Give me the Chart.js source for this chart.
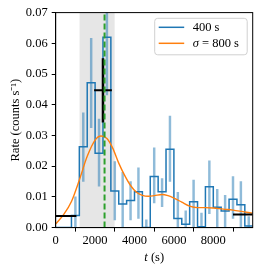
<!DOCTYPE html>
<html lang="en">
<head>
  <meta charset="UTF-8">
  <title>Rate light curve</title>
  <script src="https://cdn.jsdelivr.net/npm/chart.js"></script>
  <style>
    html, body { margin: 0; padding: 0; background: #fff; }
    #wrap { width: 266px; height: 273px; }
  </style>
</head>
<body>
  <div id="wrap"><canvas id="rateChart"></canvas></div>

  <script>
    // 400 s bins
    const binEdges = [0, 400, 800, 1200, 1600, 2000, 2400, 2800, 3200, 3600, 4000, 4400, 4800,
      5200, 5600, 6000, 6400, 6800, 7200, 7600, 8000, 8400, 8800, 9200, 9600, 10000];
    const rate400 = [0, 0, 0.0039, 0.0263, 0.0472, 0.0242, 0.0620, 0.0119, 0.0077, 0.0088, 0.0117, 0,
      0.0166, 0.0117, 0.0255, 0.0030, 0.0011, 0.0084, 0.0003, 0.0133, 0.0066, 0.0054, 0.0092, 0.0074, 0.0005];
    const errLow = [null, null, 0, 0.0150, 0.0325, 0.0135, 0.0432, 0.0025, 0, 0.0025, 0.0030, 0,
      0.0080, 0.0068, 0.0150, 0, 0, 0, 0, 0.0045, 0, 0, 0.0030, 0, 0];
    const errHigh = [null, null, 0.0100, 0.0374, 0.0616, 0.0353, 0.0810, 0.0215, 0.0180, 0.0150, 0.0195, 0.0025,
      0.0260, 0.0160, 0.0363, 0.0115, 0.0055, 0.0155, 0.0047, 0.0217, 0.0125, 0.0105, 0.0166, 0.0150, 0.0036];

    // smoothed rate, sigma = 800 s
    const smoothT = [0, 400, 800, 1200, 1600, 2000, 2300, 2600, 2900, 3200, 3500, 3800, 4100, 4400, 4700,
      5000, 5400, 5700, 6000, 6400, 6800, 7200, 7600, 8000, 8500, 9000, 9500, 10000];
    const smoothRate = [0.0012, 0.0042, 0.0085, 0.0155, 0.0232, 0.0285, 0.0298, 0.0290, 0.0258, 0.0210, 0.0170,
      0.0137, 0.0115, 0.0105, 0.0102, 0.0104, 0.0108, 0.0104, 0.0096, 0.0083, 0.0070, 0.0065, 0.0065, 0.0064,
      0.0060, 0.0057, 0.0052, 0.0047];

    // black block estimates
    const baseStart = [0, 1050], baseStartRate = 0.0038;
    const baseEnd = [9000, 10000], baseEndRate = 0.0043;
    const peakSpan = [1950, 2850], peakT = 2400, peakRate = 0.0447, peakErr = [0.0342, 0.0551];

    const shadeSpan = [1200, 3000];
    const markerT = 2480;

    const xTicks = [0, 2000, 4000, 6000, 8000];
    const yTicks = [0, 0.01, 0.02, 0.03, 0.04, 0.05, 0.06, 0.07];

    const FONT = "'Liberation Serif', 'Times New Roman', serif";

    const stepData = binEdges.map((e, i) => ({ x: e, y: i < rate400.length ? rate400[i] : rate400[rate400.length - 1] }));
    const errData = rate400.map((v, i) => ({
      x: (binEdges[i] + binEdges[i + 1]) / 2,
      y: errLow[i] === null ? null : [errLow[i], errHigh[i]]
    }));

    const frame = {
      id: 'frame',
      afterDraw(chart) {
        const { ctx, chartArea: a } = chart;
        ctx.save();
        ctx.strokeStyle = '#000';
        ctx.lineWidth = 1;
        ctx.strokeRect(a.left, a.top, a.right - a.left, a.bottom - a.top);

        // legend
        const bx = a.right - 98, by = a.top + 5.7, bw = 92.5, bh = 36.5;
        ctx.beginPath();
        ctx.roundRect(bx, by, bw, bh, 3);
        ctx.fillStyle = 'rgba(255,255,255,0.8)';
        ctx.fill();
        ctx.strokeStyle = '#d0d0d0';
        ctx.stroke();
        const rows = [['#1f77b4', 1.5], ['#ff7f0e', 1.5]];
        rows.forEach((r, i) => {
          const y = by + 9 + i * 16;
          ctx.beginPath();
          ctx.moveTo(bx + 4, y);
          ctx.lineTo(bx + 29.5, y);
          ctx.strokeStyle = r[0];
          ctx.lineWidth = r[1];
          ctx.stroke();
        });
        ctx.fillStyle = '#000';
        ctx.textBaseline = 'middle';
        ctx.textAlign = 'left';
        ctx.font = '12.5px ' + FONT;
        ctx.fillText('400 s', bx + 38, by + 9);
        ctx.font = 'italic 12.5px ' + FONT;
        ctx.fillText('\u03C3', bx + 38, by + 25);
        const sw = ctx.measureText('\u03C3').width;
        ctx.font = '12.5px ' + FONT;
        ctx.fillText(' = 800 s', bx + 38 + sw, by + 25);

        // x title
        const cx = (a.left + a.right) / 2, ty = 258;
        ctx.font = 'italic 12.5px ' + FONT;
        const tw = ctx.measureText('t').width;
        ctx.font = '12.5px ' + FONT;
        const rw = ctx.measureText(' (s)').width;
        const x0 = cx - (tw + rw) / 2;
        ctx.font = 'italic 12.5px ' + FONT;
        ctx.fillText('t', x0, ty);
        ctx.font = '12.5px ' + FONT;
        ctx.fillText(' (s)', x0 + tw, ty);
        ctx.restore();
      }
    };

    new Chart(document.getElementById('rateChart'), {
      type: 'line',
      data: {
        datasets: [
          {
            label: 'shade',
            data: shadeSpan.map(t => ({ x: t, y: 0.07 })),
            borderWidth: 0,
            backgroundColor: 'rgba(128,128,128,0.2)',
            fill: 'origin',
            pointRadius: 0,
            order: 9
          },
          {
            type: 'bar',
            label: 'err',
            data: errData,
            backgroundColor: 'rgba(31,119,180,0.5)',
            barThickness: 1.8,
            grouped: false,
            clip: 0,
            order: 8
          },
          {
            label: '400 s',
            data: stepData,
            stepped: 'before',
            borderColor: '#1f77b4',
            borderWidth: 1.5,
            pointRadius: 0,
            fill: false,
            order: 7
          },
          {
            label: 'sigma = 800 s',
            data: smoothT.map((t, i) => ({ x: t, y: smoothRate[i] })),
            borderColor: '#ff7f0e',
            borderWidth: 1.4,
            pointRadius: 0,
            fill: false,
            cubicInterpolationMode: 'monotone',
            order: 6
          },
          {
            label: 'base start',
            data: baseStart.map(t => ({ x: t, y: baseStartRate })),
            borderColor: '#000',
            borderWidth: 2,
            pointRadius: 0,
            order: 5
          },
          {
            label: 'base end',
            data: baseEnd.map(t => ({ x: t, y: baseEndRate })),
            borderColor: '#000',
            borderWidth: 2,
            pointRadius: 0,
            order: 5
          },
          {
            label: 'peak',
            data: peakSpan.map(t => ({ x: t, y: peakRate })),
            borderColor: '#000',
            borderWidth: 2,
            pointRadius: 0,
            order: 4
          },
          {
            label: 'peak err',
            data: peakErr.map(r => ({ x: peakT, y: r })),
            borderColor: '#000',
            borderWidth: 2.5,
            pointRadius: 0,
            order: 4
          },
          {
            label: 'marker',
            data: [{ x: markerT, y: 0 }, { x: markerT, y: 0.07 }],
            borderColor: '#2ca02c',
            borderWidth: 2,
            borderDash: [6, 3],
            pointRadius: 0,
            order: 1
          }
        ]
      },
      options: {
        responsive: true,
        maintainAspectRatio: false,
        animation: false,
        events: [],
        layout: { padding: { top: 12.6, right: 13.3, left: 0, bottom: 0 } },
        plugins: { legend: { display: false }, tooltip: { enabled: false } },
        scales: {
          x: {
            type: 'linear',
            min: 0,
            max: 10000,
            offset: false,
            afterBuildTicks: s => { s.ticks = xTicks.map(v => ({ value: v })); },
            afterFit: s => { s.height = 45.4; },
            ticks: {
              color: '#000',
              font: { family: FONT, size: 12.5 },
              padding: 2,
              maxRotation: 0,
              callback: v => String(v)
            },
            grid: { drawOnChartArea: false, drawTicks: true, tickLength: 4, tickColor: '#000' },
            border: { color: '#000', width: 1 }
          },
          y: {
            type: 'linear',
            min: 0,
            max: 0.07,
            afterBuildTicks: s => { s.ticks = yTicks.map(v => ({ value: v })); },
            afterFit: s => { s.width = 55.7; },
            ticks: {
              color: '#000',
              font: { family: FONT, size: 12.5 },
              padding: 4,
              callback: v => v.toFixed(2)
            },
            grid: { drawOnChartArea: false, drawTicks: true, tickLength: 4, tickColor: '#000' },
            border: { color: '#000', width: 1 },
            title: {
              display: true,
              text: 'Rate (counts s\u207B\u00B9)',
              color: '#000',
              font: { family: FONT, size: 12.5 },
              padding: { top: 8, bottom: 0 }
            }
          }
        }
      },
      plugins: [frame]
    });
  </script>
</body>
</html>
